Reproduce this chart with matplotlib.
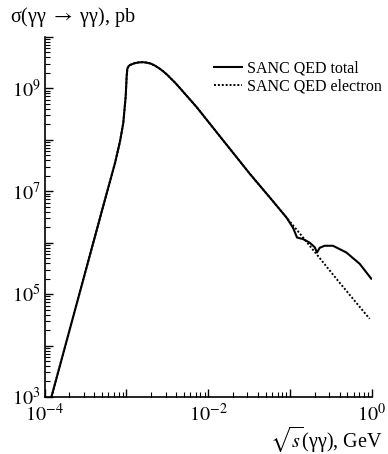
import numpy as np
import matplotlib
matplotlib.use("Agg")
import matplotlib.pyplot as plt
from matplotlib.ticker import LogLocator, FixedLocator, NullFormatter

plt.rcParams['font.family'] = ['Liberation Serif', 'DejaVu Serif']
plt.rcParams['mathtext.fontset'] = 'stix'

# log10(sqrt(s) / GeV) and log10(sigma / pb)
common_logx = [-3.917, -3.30, -3.14, -3.079, -3.039, -3.010, -2.998, -2.990, -2.975, -2.957,
               -2.90, -2.85, -2.80, -2.75, -2.70, -2.65, -2.60, -2.55, -2.50, -2.45,
               -2.40, -2.35, -2.30, -2.25, -2.20, -2.14, -2.05, -1.90, -1.494, -1.25]
common_logy = [3.00, 6.62, 7.55, 7.97, 8.33, 8.84, 9.23, 9.38, 9.43, 9.455,
               9.49, 9.505, 9.51, 9.50, 9.48, 9.44, 9.39, 9.33, 9.26, 9.18,
               9.10, 9.01, 8.92, 8.83, 8.74, 8.63, 8.45, 8.15, 7.34, 6.88]

total_logx = common_logx + [-1.046, -0.966, -0.917, -0.843, -0.762, -0.70, -0.673, -0.64,
                            -0.58, -0.478, -0.315, -0.152, -0.01]
total_logy = common_logy + [6.49, 6.29, 6.10, 6.07, 6.00, 5.91, 5.81, 5.90,
                            5.94, 5.94, 5.81, 5.59, 5.30]

electron_logx = common_logx + [-1.046, -0.884, -0.68, -0.437, -0.234, -0.03]
electron_logy = common_logy + [6.49, 6.18, 5.78, 5.30, 4.91, 4.52]

x_major = [1e-4, 1e-3, 1e-2, 1e-1, 1e0]
x_labels = [r'$10^{-4}$', '', r'$10^{-2}$', '', r'$10^{0}$']
y_major = [1e3, 1e4, 1e5, 1e6, 1e7, 1e8, 1e9, 1e10]
y_labels = [r'$10^{3}$', '', r'$10^{5}$', '', r'$10^{7}$', '', r'$10^{9}$', '']

total_x = 10.0 ** np.array(total_logx)
total_y = 10.0 ** np.array(total_logy)
el_x = 10.0 ** np.array(electron_logx)
el_y = 10.0 ** np.array(electron_logy)

fig = plt.figure(figsize=(3.88, 4.54), dpi=100)
ax = fig.add_axes([0.115, 0.1256, 0.844, 0.793])

ax.plot(el_x, el_y, color='black', lw=1.4, linestyle=(0, (1, 1)), label='SANC QED electron')
ax.plot(total_x, total_y, color='black', lw=1.5, label='SANC QED total')

ax.set_xscale('log')
ax.set_yscale('log')
ax.set_xlim(1e-4, 1e0)
ax.set_ylim(1e3, 1e10)

ax.xaxis.set_major_locator(FixedLocator(x_major))
ax.set_xticklabels(x_labels)
ax.yaxis.set_major_locator(FixedLocator(y_major))
ax.set_yticklabels(y_labels)
ax.xaxis.set_minor_locator(LogLocator(base=10, subs=np.arange(2, 10), numticks=20))
ax.yaxis.set_minor_locator(LogLocator(base=10, subs=np.arange(2, 10), numticks=20))
ax.xaxis.set_minor_formatter(NullFormatter())
ax.yaxis.set_minor_formatter(NullFormatter())

ax.spines['top'].set_visible(False)
ax.spines['right'].set_visible(False)
for s in ['left', 'bottom']:
    ax.spines[s].set_linewidth(1.2)
ax.tick_params(which='major', direction='in', length=6, width=1.0, labelsize=14.5)
ax.tick_params(axis='x', which='major', pad=5)
ax.tick_params(axis='y', which='major', pad=3)
ax.tick_params(which='minor', direction='in', length=3.5, width=0.8)

fig.text(0.026, 0.963, r'σ(γγ $\rightarrow$ γγ), pb', fontsize=14.5, ha='left', va='center')
fig.text(0.987, 0.033, r'$\sqrt{s}$(γγ), GeV', fontsize=14.5, ha='right', va='center')

handles, labels = ax.get_legend_handles_labels()
ax.legend(handles[::-1], labels[::-1], loc='center left',
          bbox_to_anchor=(0.552, 0.829), bbox_transform=fig.transFigure,
          frameon=False, fontsize=11.5, handlelength=1.75, handletextpad=0.3,
          labelspacing=0.12, borderpad=0.0, borderaxespad=0.0)

fig.savefig('out.png', dpi=100)
